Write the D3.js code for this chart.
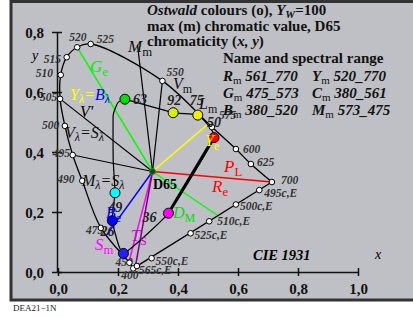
<!DOCTYPE html>
<html>
<head>
<meta charset="utf-8">
<script src="https://d3js.org/d3.v7.min.js"></script>
<style>
  body { margin: 0; background: #fff; }
  svg text { font-family: "Liberation Serif", "DejaVu Serif", serif; }
</style>
</head>
<body>
<svg id="chart" width="413" height="317"></svg>
<script>
// spectral locus (wavelength, x, y)
const locus = [
  [400, 0.251, 0.012], [450, 0.238, 0.031], [475, 0.143, 0.147],
  [490, 0.081, 0.304], [495, 0.049, 0.390], [500, 0.023, 0.487],
  [505, 0.007, 0.577], [510, 0.009, 0.657], [515, 0.029, 0.716],
  [520, 0.064, 0.749], [525, 0.109, 0.760], [550, 0.348, 0.637],
  [575, 0.513, 0.483], [600, 0.593, 0.410], [625, 0.643, 0.360],
  [700, 0.713, 0.300]
];
// complementary points on the purple line
const compl = [
  ["495c,E", 0.671, 0.273], ["500c,E", 0.593, 0.225], ["510c,E", 0.504, 0.169],
  ["525c,E", 0.442, 0.129], ["550c,E", 0.312, 0.046], ["565c,E", 0.263, 0.020]
];
const white = [0.315, 0.335]; // D65
// Ostwald max chromatic colours (number, x, y, colour)
const ostwald = [
  ["63", 0.223, 0.576, "#00e000"], ["92", 0.384, 0.531, "#d8f000"],
  ["75", 0.466, 0.523, "#f0f000"], ["50", 0.520, 0.448, "#ff0000"],
  ["36", 0.368, 0.196, "#ff00ff"], ["26", 0.218, 0.062, "#2020ff"],
  ["49", 0.181, 0.171, "#0000ff"], ["", 0.190, 0.264, "#00ffff"]
];
// curve back from cyan to green (bends left)
const loopBack = [[0.184, 0.373], [0.184, 0.523], [0.200, 0.565]];
// coloured lines from D65 to their end points
const colourLines = [
  ["#ff0000", 0.713, 0.300], ["#ffff00", 0.500, 0.493],
  ["#00ff00", 0.064, 0.749], ["#00ff00", 0.530, 0.190],
  ["#0000ff", 0.162, 0.123], ["#ff00ff", 0.234, 0.023],
  ["#800080", 0.257, 0.013]
];
// black lines from D65
const blackLines = [
  [0.007, 0.577], [0.049, 0.390], [0.265, 0.757], [0.348, 0.637]
];
const xTicks = [0, 0.2, 0.4, 0.6, 0.8, 1.0];
const yTicks = [0, 0.2, 0.4, 0.6, 0.8];

const svg = d3.select("#chart");
const x = d3.scaleLinear().domain([0, 1]).range([58, 358]);
const y = d3.scaleLinear().domain([0, 0.8]).range([272, 32]);
const fmt = d => d.toFixed(1).replace(".", ",");

// frame
svg.append("rect").attr("x", 11).attr("y", 1.5).attr("width", 410).attr("height", 298.5)
  .attr("fill", "#bfc0c5").attr("stroke", "#333").attr("stroke-width", 3);

// axes
const gx = svg.append("g").attr("transform", "translate(0,272)")
  .call(d3.axisBottom(x).tickValues(xTicks).tickFormat(fmt).tickSizeOuter(0));
gx.select(".domain").attr("stroke", "#111").attr("stroke-width", 1.5);
gx.selectAll(".tick line").attr("y1", -4).attr("y2", 4).attr("stroke", "#111").attr("stroke-width", 1.5);
gx.selectAll(".tick text").attr("y", 22).attr("dy", 0)
  .attr("font-size", 15).attr("font-weight", "bold").attr("fill", "#111")
  .attr("font-family", "Liberation Serif");

const gy = svg.append("g").attr("transform", "translate(57,0)")
  .call(d3.axisLeft(y).tickValues(yTicks).tickFormat(fmt).tickSizeOuter(0));
gy.select(".domain").attr("stroke", "#111").attr("stroke-width", 1.5);
gy.selectAll(".tick line").attr("x1", -5).attr("x2", 5).attr("stroke", "#111").attr("stroke-width", 1.5);
gy.selectAll(".tick text").attr("x", -13).attr("dy", "0.35em")
  .attr("font-size", 15).attr("font-weight", "bold").attr("fill", "#111")
  .attr("font-family", "Liberation Serif");

svg.append("text").attr("x", 375).attr("y", 259).attr("font-style", "italic")
  .attr("font-size", 14).text("x");
svg.append("text").attr("x", 32).attr("y", 60).attr("font-style", "italic")
  .attr("font-size", 14).text("y");

// locus + purple line
const line = d3.line().x(d => x(d[1])).y(d => y(d[2]));
svg.append("path").datum(locus).attr("d", line.curve(d3.curveCatmullRom))
  .attr("fill", "none").attr("stroke", "#000").attr("stroke-width", 1.3);
svg.append("line")
  .attr("x1", x(locus[0][1])).attr("y1", y(locus[0][2]))
  .attr("x2", x(locus[locus.length - 1][1])).attr("y2", y(locus[locus.length - 1][2]))
  .attr("stroke", "#000").attr("stroke-width", 1.3);

// lines from white point
blackLines.forEach(p => {
  svg.append("line").attr("x1", x(white[0])).attr("y1", y(white[1]))
    .attr("x2", x(p[0])).attr("y2", y(p[1])).attr("stroke", "#000").attr("stroke-width", 1.2);
});
colourLines.forEach(p => {
  svg.append("line").attr("x1", x(white[0])).attr("y1", y(white[1]))
    .attr("x2", x(p[1])).attr("y2", y(p[2])).attr("stroke", p[0]).attr("stroke-width", 1.5);
});

// Ostwald loop
const loopPts = ostwald.map(d => [d[1], d[2]]).concat(loopBack, [[ostwald[0][1], ostwald[0][2]]]);
svg.append("path")
  .attr("d", d3.line().x(d => x(d[0])).y(d => y(d[1])).curve(d3.curveCardinal.tension(0.6))(loopPts))
  .attr("fill", "none").attr("stroke", "#000").attr("stroke-width", 1.2);
svg.append("line").attr("x1", x(ostwald[3][1])).attr("y1", y(ostwald[3][2]))
  .attr("x2", x(ostwald[4][1])).attr("y2", y(ostwald[4][2]))
  .attr("stroke", "#000").attr("stroke-width", 3);

// locus dots + labels
const lab = svg.append("g").attr("font-size", 11.5).attr("font-style", "italic")
  .attr("font-weight", "bold").attr("fill", "#333");
const locOff = {400: [-12, 11], 450: [-14, 3], 475: [-15, 6], 490: [-25, 2], 495: [-20, 2],
  500: [-23, 3], 505: [-20, 2], 510: [-25, 2], 515: [-23, 6], 520: [-8, -6], 525: [6, -1],
  550: [4, -5], 575: [7, -8], 600: [7, 4], 625: [6, 2], 700: [9, 2]};
locus.forEach(d => {
  svg.append("circle").attr("cx", x(d[1])).attr("cy", y(d[2])).attr("r", 2.8)
    .attr("fill", "#fff").attr("stroke", "#000").attr("stroke-width", 1);
  const o = locOff[d[0]];
  lab.append("text").attr("x", x(d[1]) + o[0]).attr("y", y(d[2]) + o[1]).text(d[0]);
});
const cOff = [[5, 7], [4, 5], [8, 4], [4, 6], [4, 7], [2, 8]];
compl.forEach((d, i) => {
  svg.append("circle").attr("cx", x(d[1])).attr("cy", y(d[2])).attr("r", 2.8)
    .attr("fill", "#fff").attr("stroke", "#000").attr("stroke-width", 1);
  lab.append("text").attr("x", x(d[1]) + cOff[i][0]).attr("y", y(d[2]) + cOff[i][1]).text(d[0]);
});

// ostwald dots
ostwald.forEach(d => {
  svg.append("circle").attr("cx", x(d[1])).attr("cy", y(d[2])).attr("r", 5)
    .attr("fill", d[3]).attr("stroke", "#000").attr("stroke-width", 1);
});
const numOff = {"63": [8, 5], "92": [-6, -8], "75": [-8, -10], "50": [-7, -11], "36": [-26, 9],
  "26": [-23, -17], "49": [-4, -9]};
ostwald.forEach(d => {
  if (!d[0]) return;
  const o = numOff[d[0]];
  svg.append("text").attr("x", x(d[1]) + o[0]).attr("y", y(d[2]) + o[1])
    .attr("font-size", 14).attr("font-style", "italic").attr("font-weight", "bold")
    .attr("fill", "#222").text(d[0]);
});

// white point
svg.append("circle").attr("cx", x(white[0])).attr("cy", y(white[1])).attr("r", 3)
  .attr("fill", "#333").attr("stroke", "#0a0").attr("stroke-width", 1);
svg.append("text").attr("x", 153).attr("y", 189).attr("font-size", 14).attr("font-weight", "bold").text("D65");

// text with subscript helper
function sub(px, py, main, s, col, size) {
  const t = svg.append("text").attr("x", px).attr("y", py).attr("font-size", size)
    .attr("font-style", "italic").attr("fill", col);
  t.append("tspan").text(main);
  t.append("tspan").attr("dy", 4).attr("font-size", size * 0.75)
    .attr("font-style", "normal").text(s);
  return t;
}
sub(90, 72, "G", "e", "#00ee00", 17);
sub(224, 172, "P", "L", "#ff0000", 17);
sub(212, 192, "R", "e", "#ff0000", 17);
sub(205, 146, "Y", "e", "#ffff00", 16);
sub(106, 218, "B", "e", "#0000ff", 16);
sub(95, 250, "S", "m", "#ff00ff", 17);
sub(173, 218, "D", "M", "#00dd00", 16);
sub(131, 241, "T", "S", "#cc00cc", 16);
sub(128, 52, "M", "m", "#111", 17);
sub(173, 89, "V", "m", "#111", 16);
sub(199, 109, "L", "m", "#111", 16);

// lambda labels
const yl = svg.append("text").attr("x", 70).attr("y", 100).attr("font-size", 16).attr("font-style", "italic");
yl.append("tspan").attr("fill", "#ffff00").text("Y");
yl.append("tspan").attr("fill", "#ffff00").attr("dy", 3).attr("font-size", 12).text("λ");
yl.append("tspan").attr("fill", "#ffff00").attr("dy", -3).text("=");
yl.append("tspan").attr("fill", "#0000ff").text("B");
yl.append("tspan").attr("fill", "#0000ff").attr("dy", 3).attr("font-size", 12).text("λ");
function lam(px, py, a, b) {
  const t = svg.append("text").attr("x", px).attr("y", py).attr("font-size", 16)
    .attr("font-style", "italic").attr("fill", "#111");
  t.append("tspan").text(a);
  t.append("tspan").attr("dy", 3).attr("font-size", 12).text("λ");
  t.append("tspan").attr("dy", -3).text("=" + b);
  t.append("tspan").attr("dy", 3).attr("font-size", 12).text("λ");
}
lam(65, 138, "V", "S");
lam(82, 186, "M", "S");
svg.append("text").attr("x", 80).attr("y", 117).attr("font-size", 16).attr("font-style", "italic").text("V'");

// title block
const title = svg.append("g").attr("font-size", 15).attr("font-weight", "bold").attr("fill", "#111");
const t1 = title.append("text").attr("x", 147).attr("y", 15);
t1.append("tspan").attr("font-style", "italic").text("Ostwald");
t1.append("tspan").text(" colours (o), ");
t1.append("tspan").attr("font-style", "italic").text("Y");
t1.append("tspan").attr("font-style", "italic").attr("font-size", 11).attr("dy", 3).text("W");
t1.append("tspan").attr("dy", -3).text("=100");
title.append("text").attr("x", 147).attr("y", 31).text("max (m) chromatic value, D65");
const t3 = title.append("text").attr("x", 147).attr("y", 46);
t3.append("tspan").text("chromaticity (");
t3.append("tspan").attr("font-style", "italic").text("x, y");
t3.append("tspan").text(")");
title.append("text").attr("x", 223).attr("y", 63).text("Name and spectral range");

const legend = [
  ["R", "561_770", "Y", "520_770"],
  ["G", "475_573", "C", "380_561"],
  ["B", "380_520", "M", "573_475"]
];
legend.forEach((r, i) => {
  const yy = 81 + i * 17;
  [[223, r[0], r[1]], [312, r[2], r[3]]].forEach(c => {
    const t = title.append("text").attr("x", c[0]).attr("y", yy);
    t.append("tspan").attr("font-style", "italic").text(c[1]);
    t.append("tspan").attr("font-size", 11).attr("dy", 3).attr("font-weight", "normal").text("m");
    t.append("tspan").attr("dy", -3).attr("font-style", "italic").text(" " + c[2]);
  });
});

svg.append("text").attr("x", 253).attr("y", 260).attr("font-size", 14.5).attr("font-weight", "bold")
  .attr("font-style", "italic").text("CIE 1931");
svg.append("text").attr("x", 13).attr("y", 311).attr("font-size", 9).attr("fill", "#222").text("DEA21−1N");
</script>
</body>
</html>
